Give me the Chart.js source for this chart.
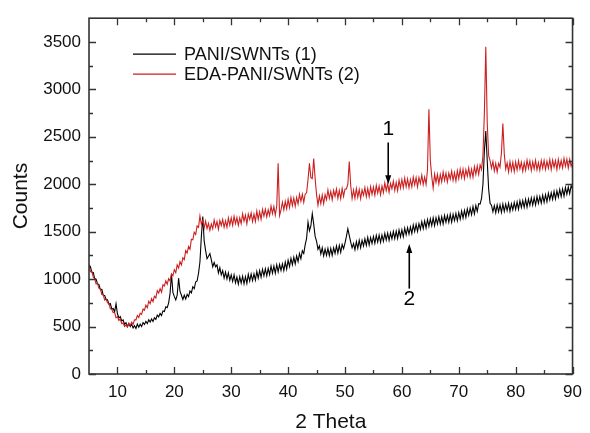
<!DOCTYPE html>
<html>
<head>
<meta charset="utf-8">
<script src="https://cdn.jsdelivr.net/npm/chart.js@4.4.0/dist/chart.umd.min.js"></script>
<style>
  html, body { margin: 0; padding: 0; background: #fff; }
</style>
</head>
<body>
<canvas id="xrd" width="590" height="433"></canvas>
<script>
// ======= DATA =======
// XRD scans, one reading every 0.25 deg of 2 Theta, starting at 5 deg
const thetaStart = 5;
const thetaStep = 0.25;

// PANI/SWNTs (1) - black trace
const paniCounts = [
  1150, 1130, 1072, 1070, 1005, 1000, 950, 943, 890, 892, 830, 828, 785, 783, 735, 742, 685, 690, 655, 740,
  635, 590, 605, 560, 570, 525, 540, 500, 530, 500, 525, 485, 510, 480, 527, 493, 525, 500, 542, 523,
  555, 531, 572, 548, 580, 553, 592, 576, 620, 602, 639, 617, 665, 658, 708, 700, 750, 850, 1050, 860,
  815, 780, 830, 1010, 870, 830, 785, 830, 790, 840, 815, 875, 855, 920, 900, 970, 980, 1060, 1180, 1450,
  1660, 1400, 1300, 1215, 1240, 1270, 1205, 1130, 1175, 1130, 1150, 1065, 1120, 1045, 1090, 1010, 1075, 1002, 1065, 988,
  1045, 975, 1045, 961, 1022, 948, 1025, 957, 1030, 950, 1025, 955, 1050, 980, 1055, 985, 1055, 990, 1080, 1010,
  1090, 1020, 1104, 1034, 1109, 1034, 1113, 1048, 1138, 1063, 1137, 1062, 1152, 1077, 1156, 1091, 1161, 1091, 1180, 1105,
  1200, 1132, 1220, 1152, 1230, 1160, 1245, 1185, 1270, 1215, 1300, 1270, 1360, 1430, 1600, 1510, 1560, 1690, 1580, 1450,
  1400, 1315, 1350, 1265, 1330, 1245, 1317, 1250, 1325, 1247, 1325, 1250, 1330, 1270, 1350, 1275, 1355, 1282, 1365, 1320,
  1380, 1450, 1530, 1460, 1390, 1330, 1375, 1310, 1395, 1325, 1410, 1330, 1410, 1350, 1425, 1355, 1440, 1360, 1437, 1375,
  1450, 1378, 1462, 1390, 1464, 1387, 1466, 1399, 1483, 1411, 1485, 1408, 1487, 1425, 1504, 1427, 1506, 1429, 1517, 1445,
  1520, 1446, 1537, 1467, 1543, 1474, 1550, 1481, 1571, 1502, 1578, 1504, 1585, 1525, 1606, 1532, 1613, 1539, 1629, 1555,
  1635, 1563, 1646, 1564, 1647, 1580, 1658, 1581, 1659, 1582, 1670, 1598, 1671, 1599, 1682, 1600, 1683, 1616, 1693, 1615,
  1700, 1631, 1717, 1643, 1724, 1650, 1741, 1672, 1748, 1679, 1765, 1688, 1776, 1715, 1795, 1790, 1850, 2000, 2350, 2560,
  2250, 1950, 1800, 1780, 1710, 1775, 1700, 1783, 1710, 1782, 1704, 1791, 1713, 1790, 1722, 1799, 1716, 1793, 1730, 1807,
  1735, 1814, 1737, 1826, 1755, 1828, 1757, 1841, 1759, 1843, 1777, 1855, 1779, 1858, 1781, 1870, 1799, 1872, 1801, 1885,
  1810, 1890, 1815, 1905, 1835, 1910, 1840, 1925, 1845, 1930, 1865, 1945, 1870, 1950, 1875, 1965, 1895, 1970, 1900, 1985,
  1950
];

// EDA-PANI/SWNTs (2) - red trace
const edaCounts = [
  1140, 1080, 1082, 1020, 1005, 948, 953, 903, 900, 838, 836, 780, 790, 750, 747, 688, 685, 647, 650, 592,
  605, 565, 580, 530, 540, 500, 517, 495, 535, 512, 547, 525, 570, 570, 617, 595, 640, 628, 685, 672,
  725, 698, 767, 741, 795, 762, 820, 802, 880, 852, 900, 862, 940, 928, 982, 946, 1005, 980, 1055, 1035,
  1100, 1067, 1150, 1117, 1185, 1150, 1225, 1205, 1300, 1275, 1345, 1315, 1420, 1415, 1495, 1470, 1560, 1545, 1665, 1580,
  1620, 1540, 1612, 1533, 1588, 1515, 1582, 1530, 1623, 1550, 1607, 1525, 1618, 1565, 1628, 1546, 1614, 1547, 1645, 1568,
  1645, 1568, 1662, 1585, 1649, 1567, 1646, 1584, 1688, 1611, 1675, 1583, 1687, 1630, 1698, 1607, 1685, 1608, 1717, 1630,
  1710, 1630, 1735, 1665, 1735, 1655, 1730, 1670, 1770, 1690, 1765, 1675, 1770, 2220, 1670, 1730, 1810, 1730, 1820, 1742,
  1840, 1755, 1860, 1775, 1855, 1768, 1860, 1792, 1895, 1820, 1895, 1810, 1895, 1910, 2050, 2220, 2070, 2060, 2270, 2060,
  1890, 1780, 1875, 1795, 1885, 1795, 1890, 1837, 1940, 1852, 1925, 1837, 1935, 1872, 1950, 1852, 1935, 1847, 1955, 1872,
  1950, 1950, 2000, 2240, 1990, 1850, 1940, 1853, 1955, 1863, 1945, 1848, 1940, 1883, 1965, 1868, 1955, 1868, 1975, 1893,
  1970, 1884, 1987, 1906, 1980, 1888, 1982, 1911, 2015, 1933, 2007, 1916, 2010, 1953, 2032, 1936, 2020, 1933, 2042, 1960,
  2050, 1963, 2065, 1973, 2055, 1963, 2050, 1973, 2075, 1993, 2070, 1973, 2070, 2008, 2095, 1998, 2075, 1998, 2150, 2790,
  2250, 2080, 1960, 2107, 2020, 2103, 2005, 2103, 2025, 2128, 2040, 2118, 2025, 2118, 2055, 2138, 2040, 2123, 2035, 2143,
  2060, 2158, 2070, 2158, 2060, 2153, 2085, 2173, 2075, 2160, 2075, 2185, 2105, 2193, 2105, 2203, 2155, 2300, 2750, 3450,
  2650, 2300, 2250, 2170, 2240, 2140, 2220, 2130, 2220, 2180, 2330, 2640, 2320, 2160, 2225, 2130, 2237, 2144, 2231, 2133,
  2235, 2150, 2246, 2161, 2232, 2137, 2228, 2148, 2254, 2169, 2245, 2145, 2236, 2161, 2252, 2152, 2228, 2148, 2249, 2169,
  2250, 2156, 2243, 2169, 2260, 2156, 2253, 2179, 2250, 2156, 2263, 2174, 2250, 2171, 2273, 2189, 2265, 2171, 2263, 2189,
  2240
];

const seriesNames = ["PANI/SWNTs (1)", "EDA-PANI/SWNTs (2)"];
const seriesColors = ["#000000", "#cc1f1f"];

// axis ticks
const xTicks = [10, 20, 30, 40, 50, 60, 70, 80, 90];
const xMinorTicks = [15, 25, 35, 45, 55, 65, 75, 85];
const yTicks = [0, 500, 1000, 1500, 2000, 2500, 3000, 3500];
const yMinorTicks = [250, 750, 1250, 1750, 2250, 2750, 3250];

// the "1" and "2" arrows, in data units
const arrowX = [57.6, 61.3];
const arrowFrom = [2440, 900];
const arrowTo = [2000, 1370];
const arrowText = ["1", "2"];
const arrowTextY = [2580, 790];

// ======= HELPERS =======
function toPoints(counts) {
  return counts.map((c, i) => ({ x: thetaStart + i * thetaStep, y: c }));
}

const FONT = "'Liberation Sans', Arial, sans-serif";

// ======= PLUGIN: frame, inward ticks, legend, arrows =======
const decorations = {
  id: 'decorations',
  afterDatasetsDraw(chart) {
    const { ctx, chartArea: a, scales: { x, y } } = chart;
    ctx.save();

    // frame round the plot
    ctx.strokeStyle = '#333';
    ctx.lineWidth = 1.6;
    ctx.strokeRect(a.left, a.top, a.right - a.left, a.bottom - a.top);

    // ticks pointing into the plot on all four sides
    ctx.lineWidth = 1.3;
    ctx.beginPath();
    const xt = (list, len) => list.forEach(v => {
      const px = Math.round(x.getPixelForValue(v)) + 0.5;
      ctx.moveTo(px, a.bottom); ctx.lineTo(px, a.bottom - len);
      ctx.moveTo(px, a.top); ctx.lineTo(px, a.top + len);
    });
    const yt = (list, len) => list.forEach(v => {
      const py = Math.round(y.getPixelForValue(v)) + 0.5;
      ctx.moveTo(a.left, py); ctx.lineTo(a.left + len, py);
      ctx.moveTo(a.right, py); ctx.lineTo(a.right - len, py);
    });
    xt(xTicks, 7); xt(xMinorTicks, 4);
    yt(yTicks, 7); yt(yMinorTicks, 4);
    ctx.stroke();

    // legend, top left inside the plot
    ctx.font = '18px ' + FONT;
    ctx.textBaseline = 'middle';
    seriesNames.forEach((name, i) => {
      const ly = a.top + 36 + i * 20;
      ctx.strokeStyle = seriesColors[i];
      ctx.lineWidth = 1.3;
      ctx.beginPath();
      ctx.moveTo(a.left + 44, ly); ctx.lineTo(a.left + 87, ly);
      ctx.stroke();
      ctx.fillStyle = '#111';
      ctx.fillText(name, a.left + 95, ly + 1);
    });

    // arrows marking the two traces
    ctx.strokeStyle = '#000';
    ctx.fillStyle = '#000';
    arrowX.forEach((xv, i) => {
      const px = x.getPixelForValue(xv);
      const y0 = y.getPixelForValue(arrowFrom[i]);
      const y1 = y.getPixelForValue(arrowTo[i]);
      const dir = y1 > y0 ? 1 : -1;
      ctx.lineWidth = 1.6;
      ctx.beginPath();
      ctx.moveTo(px, y0); ctx.lineTo(px, y1 - dir * 6);
      ctx.stroke();
      ctx.beginPath();
      ctx.moveTo(px, y1);
      ctx.lineTo(px - 3, y1 - dir * 9);
      ctx.lineTo(px + 3, y1 - dir * 9);
      ctx.closePath();
      ctx.fill();
      ctx.font = '21px ' + FONT;
      ctx.textAlign = 'center';
      ctx.fillText(arrowText[i], px, y.getPixelForValue(arrowTextY[i]));
    });
    ctx.restore();
  }
};

// ======= CHART =======
new Chart(document.getElementById('xrd').getContext('2d'), {
  type: 'line',
  data: {
    datasets: [
      // red first so it sits on top of the black trace
      { label: seriesNames[1], data: toPoints(edaCounts), borderColor: seriesColors[1], borderWidth: 1.1, pointRadius: 0, tension: 0 },
      { label: seriesNames[0], data: toPoints(paniCounts), borderColor: seriesColors[0], borderWidth: 1.1, pointRadius: 0, tension: 0 }
    ]
  },
  options: {
    responsive: false,
    animation: false,
    layout: { padding: { left: 0, right: 12, top: 15, bottom: 0 } },
    plugins: { legend: { display: false }, tooltip: { enabled: false } },
    scales: {
      x: {
        type: 'linear',
        min: 5,
        max: 90,
        afterBuildTicks: s => { s.ticks = xTicks.map(v => ({ value: v })); },
        afterFit: s => { s.height = 59; },
        grid: { display: false, drawTicks: false },
        border: { display: false },
        ticks: { color: '#111', padding: 8, font: { family: FONT, size: 17 }, callback: v => String(v) },
        title: { display: true, text: '2 Theta', color: '#111', padding: { top: 0, bottom: 0 }, font: { family: FONT, size: 21, lineHeight: 1 } }
      },
      y: {
        min: 0,
        max: 3750,
        afterBuildTicks: s => { s.ticks = yTicks.map(v => ({ value: v })); },
        afterFit: s => { s.width = 89; },
        grid: { display: false, drawTicks: false },
        border: { display: false },
        ticks: { color: '#111', padding: 8, font: { family: FONT, size: 17 }, callback: v => String(v) },
        title: { display: true, text: 'Counts', color: '#111', padding: { top: 11, bottom: 0 }, font: { family: FONT, size: 21, lineHeight: 1 } }
      }
    }
  },
  plugins: [decorations]
});
</script>
</body>
</html>
